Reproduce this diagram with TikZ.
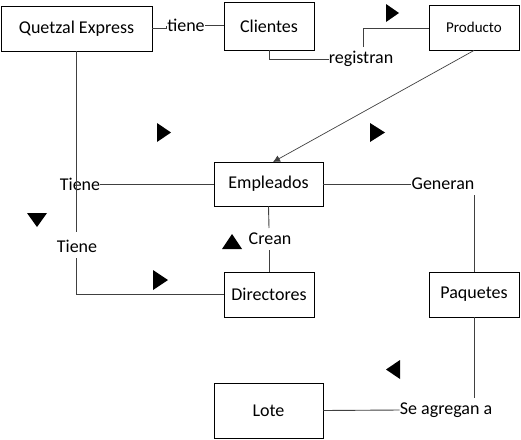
\documentclass[tikz,border=0pt]{standalone}
\usepackage{fontspec}
\setmainfont{Carlito}
\usetikzlibrary{arrows.meta}
\begin{document}
\begin{tikzpicture}[x=1pt,y=-1pt,
  box/.style={draw=black, line width=0.9pt, fill=white, minimum width=#1, inner sep=0pt, font=\fontsize{18}{20}\selectfont},
  lbl/.style={inner sep=0pt, font=\fontsize{18}{20}\selectfont},
  conn/.style={draw=black!75, line width=0.9pt},
  tri/.style={fill=black}]
\useasboundingbox (0,0) rectangle (521,439);
% boxes
\node[box=151pt, minimum height=45pt] (qe) at (76.5,28.5) {Quetzal Express};
\node[box=90pt, minimum height=48pt] (cli) at (269,26) {Clientes};
\node[box=90pt, minimum height=45pt, font=\fontsize{15}{17}\selectfont] (prod) at (474,27.5) {Producto};
\node[box=109pt, minimum height=44pt] (emp) at (268.5,184) {Empleados};
\node[box=90pt, minimum height=45pt] (dir) at (269,294.5) {Directores};
\node[box=90pt, minimum height=45pt] (paq) at (474,294.5) {Paquetes};
\node[box=109pt, minimum height=55pt] (lote) at (268.5,410.5) {Lote};
% labels
\node[lbl] (tiene) at (186,25) {tiene};
\node[lbl] (reg) at (361,59) {registran};
\node[lbl] (Tiene1) at (80,184) {Tiene};
\node[lbl] (Tiene2) at (77,246) {Tiene};
\node[lbl] (gen) at (443,184) {Generan};
\node[lbl] (crean) at (270,239) {Crean};
\node[lbl] (seag) at (446,410) {Se agregan a};
% bend coordinates
\coordinate (t1) at (166,28.5);
\coordinate (t2) at (166,26);
\coordinate (r1) at (269,59);
\coordinate (p1) at (363,47);
\coordinate (p2) at (363,28);
\coordinate (q1) at (76.5,232);
\coordinate (q2) at (76.5,258);
\coordinate (q3) at (76.5,294.5);
\coordinate (e1) at (273,162);
\coordinate (g1) at (474,195);
\coordinate (c1) at (269,228);
\coordinate (c2) at (269,250);
\coordinate (s1) at (474,398);
% connectors
\draw[conn] (qe.east) -- (t1) -- (t2);
\draw[conn] (tiene.east) -- (cli.west |- tiene);
\draw[conn] (cli.south) -- (r1) -- (reg.west);
\draw[conn] (p1) -- (p2) -- (prod.west |- p2);
\draw[conn, line width=0.7pt, -{Latex[length=7pt,width=7pt]}] (prod.south) -- (e1);
\draw[conn] (qe.south) -- (q1);
\draw[conn] (q2) -- (q3) -- (dir.west);
\draw[conn] (Tiene1.east) -- (emp.west);
\draw[conn] (emp.east) -- (gen.west);
\draw[conn] (g1) -- (paq.north);
\draw[conn] (emp.south) -- (c1);
\draw[conn] (c2) -- (dir.north);
\draw[conn] (paq.south) -- (s1);
\draw[conn] (lote.east) -- (seag.west);
% triangles
\fill[tri] (386,4) -- (386,22) -- (399,13) -- cycle;
\fill[tri] (157,123) -- (157,142) -- (171,132.5) -- cycle;
\fill[tri] (370,123) -- (370,142) -- (385,132.5) -- cycle;
\fill[tri] (27,213) -- (47,213) -- (37,227) -- cycle;
\fill[tri] (222,249) -- (242,249) -- (232,234) -- cycle;
\fill[tri] (153,270) -- (153,290) -- (168,280) -- cycle;
\fill[tri] (400,360) -- (400,379) -- (386,369.5) -- cycle;
\end{tikzpicture}
\end{document}
